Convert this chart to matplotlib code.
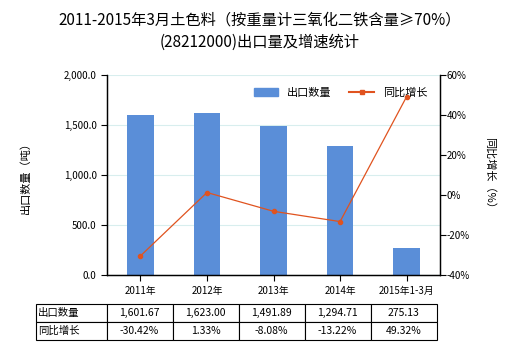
import matplotlib
matplotlib.use('Agg')
import matplotlib.pyplot as plt
from matplotlib.lines import Line2D
from matplotlib.patches import Patch
from matplotlib.ticker import FuncFormatter

plt.rcParams['font.family'] = ['Noto Sans CJK SC', 'DejaVu Sans']

# 数据
categories = ['2011年', '2012年', '2013年', '2014年', '2015年1-3月']
export_qty = [1601.67, 1623.00, 1491.89, 1294.71, 275.13]
growth = [-30.42, 1.33, -8.08, -13.22, 49.32]
qty_labels = ['1,601.67', '1,623.00', '1,491.89', '1,294.71', '275.13']
growth_labels = ['-30.42%', '1.33%', '-8.08%', '-13.22%', '49.32%']

bar_color = '#5a8ed8'
line_color = '#e0531f'

fig = plt.figure(figsize=(5.2, 3.5), dpi=100)
ax = fig.add_axes([0.206, 0.214, 0.640, 0.571])
ax2 = ax.twinx()

x = range(len(categories))
ax.bar(x, export_qty, width=0.4, color=bar_color, zorder=2)
ax.set_xlim(-0.5, len(categories) - 0.5)
ax.set_ylim(0, 2000)
ax.set_yticks([0, 500, 1000, 1500, 2000])
ax.yaxis.set_major_formatter(FuncFormatter(lambda v, p: '{:,.1f}'.format(v)))
ax.grid(axis='y', color='#d8eeee', linewidth=0.8, zorder=0)
ax.set_xticks(list(x))
ax.set_xticklabels(categories, fontsize=7)
ax.tick_params(axis='y', labelsize=7, length=4, width=0.8)
ax.tick_params(axis='x', length=4, width=0.8)
ax.set_ylabel('出口数量（吨）', fontsize=8, labelpad=24)

ax2.plot(x, growth, color=line_color, linewidth=0.9, marker='o', markersize=3, zorder=3)
ax2.set_ylim(-40, 60)
ax2.set_yticks([-40, -20, 0, 20, 40, 60])
ax2.yaxis.set_major_formatter(FuncFormatter(lambda v, p: '{:.0f}%'.format(v)))
ax2.tick_params(axis='y', labelsize=7, length=4, width=0.8, pad=1)
ax2.set_ylabel('同比增长（%）', fontsize=8, rotation=-90, labelpad=18)

for a in (ax, ax2):
    a.spines['top'].set_visible(False)
    for s in ('left', 'right', 'bottom'):
        a.spines[s].set_color('black')
        a.spines[s].set_linewidth(0.9)

handles = [Patch(color=bar_color), Line2D([], [], color=line_color, linewidth=1.5, marker='s', markersize=3)]
fig.legend(handles, ['出口数量', '同比增长'], loc='center', bbox_to_anchor=(0.655, 0.735),
           ncol=2, frameon=False, fontsize=8, handlelength=2.2, columnspacing=1.6)

fig.text(0.5, 0.943, '2011-2015年3月土色料（按重量计三氧化二铁含量≥70%）', ha='center', va='center', fontsize=11)
fig.text(0.5, 0.88, '(28212000)出口量及增速统计', ha='center', va='center', fontsize=11)

# 表格
cell_text = [['出口数量'] + qty_labels, ['同比增长'] + growth_labels]
tab = ax.table(cellText=cell_text, cellLoc='center',
               colWidths=[0.213] + [0.2] * 5,
               bbox=[-0.213, -0.325, 1.203, 0.18])
tab.auto_set_font_size(False)
tab.set_fontsize(7.5)
for (r, c), cell in tab.get_celld().items():
    cell.set_linewidth(0.8)
    if c == 0:
        cell._loc = 'left'
        cell.PAD = 0.03
        cell.get_text().set_ha('left')

fig.savefig('out.png', dpi=100)
